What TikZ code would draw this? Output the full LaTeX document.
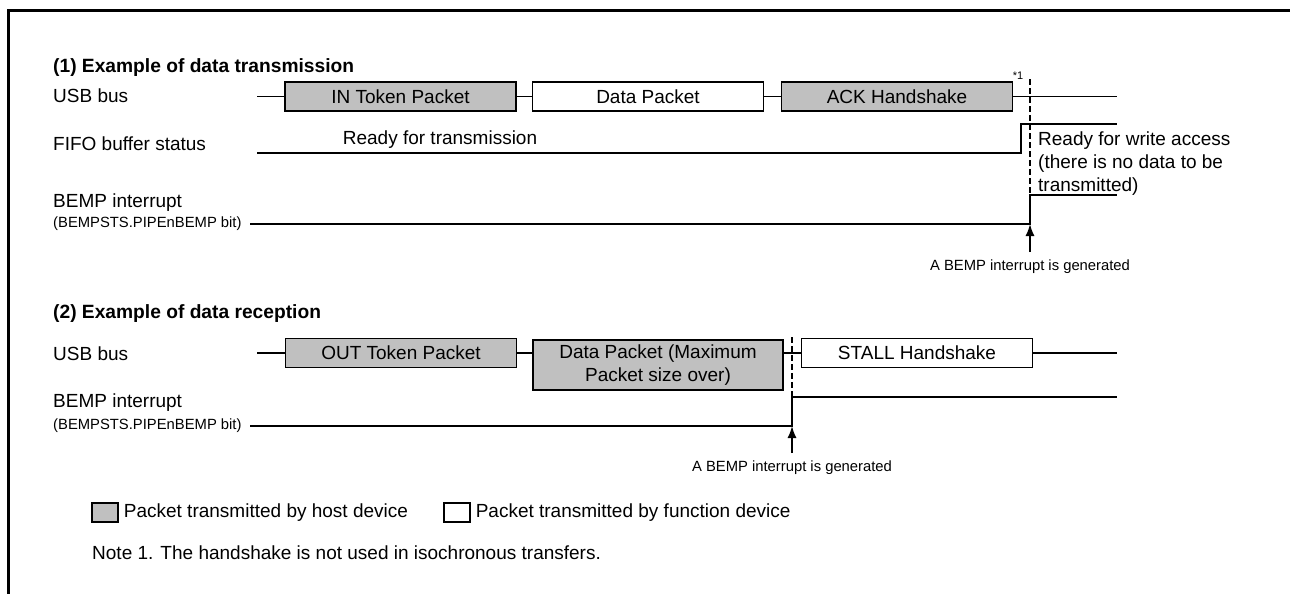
\documentclass[tikz,border=0pt]{standalone}
\usepackage{fontspec}
\setmainfont{Liberation Sans}
\usetikzlibrary{arrows.meta, positioning}
\definecolor{hostgray}{RGB}{192,192,192}

\begin{document}
\begin{tikzpicture}[x=1pt, y=-1pt,
    txt/.style={inner sep=0pt, font=\fontsize{19}{23}\selectfont},
    tiny/.style={inner sep=0pt, font=\fontsize{14.8}{17}\selectfont},
    head/.style={inner sep=0pt, font=\fontsize{19.2}{23}\selectfont\bfseries},
    pkt/.style={draw, line width=1.4pt, inner sep=0pt, minimum width=231pt,
                minimum height=29pt, font=\fontsize{19}{23}\selectfont},
    host/.style={pkt, fill=hostgray},
    func/.style={pkt, fill=white},
    sig/.style={line width=1.5pt},
    cutline/.style={line width=1.6pt, dash pattern=on 6pt off 3pt},
    trig/.style={line width=1.5pt, -{Latex[length=12pt, width=9pt]}}]
  \useasboundingbox (0,0) rectangle (1290,594);
  % Frame
  \draw[line width=3pt] (1290,10.5) -| (8.5,594);

  % (1) Example of data transmission
  \node[head, anchor=base west] (t1) at (53,73) {(1) Example of data transmission};
  \node[txt, anchor=base west] (usb1) at (53,102) {USB bus};
  \node[txt, anchor=base west] (fifo) at (53,150) {FIFO buffer status};
  \node[txt, anchor=base west] (bemp1) at (53,207) {BEMP interrupt};
  \node[tiny, anchor=base west] (bits1) at (53,227) {(BEMPSTS.PIPEnBEMP bit)};

  % USB bus packets
  \node[host] (intok) at (400.5,96.5) {IN Token Packet};
  \node[func] (data1) at (648,96.5) {Data Packet};
  \node[host] (ack) at (897,96.5) {ACK Handshake};
  \coordinate (u1s) at (257,96.5);
  \coordinate (u1e) at (1117,96.5);
  \draw[sig] (u1s) -- (intok) (intok) -- (data1) (data1) -- (ack) (ack) -- (u1e);
  \node[inner sep=0pt, font=\fontsize{11}{12}\selectfont] (n1) at (1018,76) {*1};

  % FIFO buffer status
  \coordinate (f1s) at (257,153);
  \coordinate (f1r) at (1021,124);
  \coordinate (f1e) at (1117,124);
  \draw[sig] (f1s) -| (f1r) -- (f1e);
  \node[txt, anchor=base] (rdytx) at (440,144) {Ready for transmission};
  \node[txt, anchor=north west, align=left] (rdywr) at (1038,132)
    {Ready for write access\\(there is no data to be\\transmitted)};

  % BEMP interrupt
  \coordinate (b1s) at (250,224);
  \coordinate (b1r) at (1030,195);
  \coordinate (b1e) at (1117,195);
  \draw[sig] (b1s) -| (b1r) -- (b1e);
  \coordinate (c1top) at (1030,79);
  \coordinate (c1bot) at (1030,224);
  \draw[cutline] (c1top) -- (c1bot);
  \coordinate (a1) at (1030,252);
  \draw[trig] (a1) -- (c1bot);
  \node[tiny, below=8pt of a1] (gen1) {A BEMP interrupt is generated};

  % (2) Example of data reception
  \node[head, anchor=base west] (t2) at (53,318) {(2) Example of data reception};
  \node[txt, anchor=base west] (usb2) at (53,360) {USB bus};
  \node[txt, anchor=base west] (bemp2) at (53,407) {BEMP interrupt};
  \node[tiny, anchor=base west] (bits2) at (53,429) {(BEMPSTS.PIPEnBEMP bit)};

  % USB bus packets
  \node[host] (outtok) at (401,353) {OUT Token Packet};
  \node[host, minimum width=250pt, minimum height=50pt, align=center] (data2) at (658,365)
    {Data Packet (Maximum\\Packet size over)};
  \node[func] (stall) at (917,353) {STALL Handshake};
  \coordinate (u2s) at (257,353);
  \coordinate (u2e) at (1117,353);
  \draw[sig] (u2s) -- (outtok) (outtok) -- (outtok -| data2.west)
    (data2.east |- stall) -- (stall) (stall) -- (u2e);

  % BEMP interrupt
  \coordinate (b2s) at (250,426);
  \coordinate (b2r) at (792,397);
  \coordinate (b2e) at (1117,397);
  \draw[sig] (b2s) -| (b2r) -- (b2e);
  \coordinate (c2top) at (792,337);
  \coordinate (c2bot) at (792,426);
  \draw[cutline] (c2top) -- (c2bot);
  \coordinate (a2) at (792,453);
  \draw[trig] (a2) -- (c2bot);
  \node[tiny, below=8pt of a2] (gen2) {A BEMP interrupt is generated};

  % Legend
  \node[host, minimum width=26pt, minimum height=19pt] (khost) at (105,512.5) {};
  \node[txt, right=5pt of khost] (khostt) {Packet transmitted by host device};
  \node[func, minimum width=26pt, minimum height=19pt, right=35pt of khostt] (kfunc) {};
  \node[txt, right=5pt of kfunc] (kfunct) {Packet transmitted by function device};
  \node[txt, anchor=base west] (note) at (92,559)
    {Note 1. The handshake is not used in isochronous transfers.};
\end{tikzpicture}
\end{document}
